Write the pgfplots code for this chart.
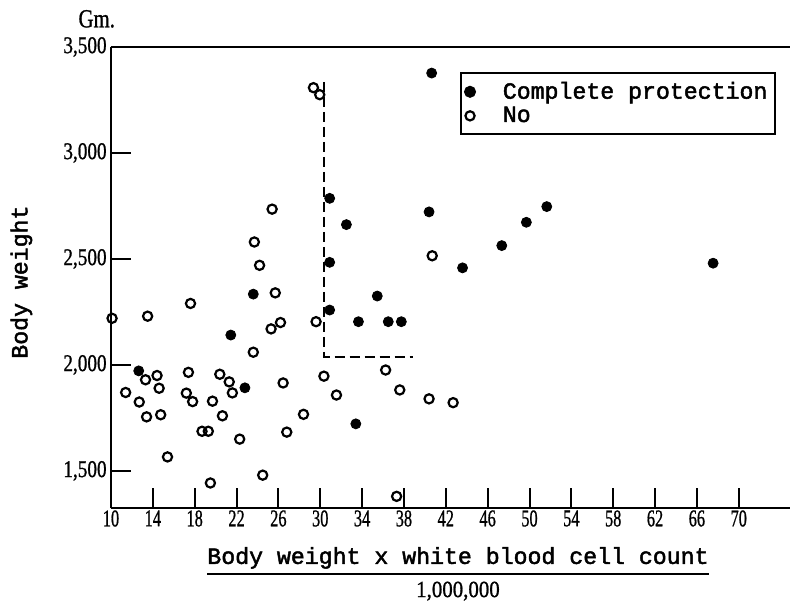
\documentclass[border=0pt]{standalone}
\usepackage{fontspec}
\usepackage{pgfplots}
\pgfplotsset{compat=1.18}
\newfontfamily\monof[FakeBold=2]{Liberation Mono}
\newfontfamily\tickf[FakeBold=1]{Liberation Serif}
\newcommand\narx[1]{\scalebox{0.68}[1]{#1}}
\newcommand\nary[1]{\scalebox{0.8}[1]{#1}}
\setlength{\arrayrulewidth}{1pt}

\pgfplotstableread{
x y
23.6 2334
21.45 2141
12.65 1972
22.8 1892
40.65 3377
30.9 2786
32.5 2662
40.4 2722
30.9 2484
43.6 2458
35.45 2325
30.9 2259
33.65 2204
36.5 2204
37.75 2204
33.4 1722
51.65 2747
49.7 2673
47.35 2563
67.55 2480
}\complete

\pgfplotstableread{
x y
10.1 2220
13.5 2230
17.6 2290
25.4 2735
23.7 2580
24.2 2470
25.7 2340
26.2 2200
25.3 2170
23.6 2060
14.4 1950
13.3 1930
14.6 1890
11.4 1870
12.7 1825
13.4 1755
14.75 1765
17.4 1965
17.2 1867
17.8 1827
20.4 1956
21.3 1920
21.6 1868
19.7 1829
20.65 1760
18.7 1687
19.3 1687
22.3 1650
26.45 1915
26.8 1683
28.4 1767
15.4 1566
24.5 1480
19.5 1443
29.35 3308
29.95 3275
40.7 2515
29.6 2204
36.25 1976
30.35 1947
31.55 1858
37.6 1882
40.4 1840
42.7 1822
37.3 1380
}\nopro

\begin{document}
\begin{tikzpicture}
\begin{axis}[
  scale only axis,
  width=339.5pt, height=230.5pt,
  xmin=10, xmax=74.9, ymin=1325, ymax=3500,
  axis x line*=box, axis y line*=left,
  axis line style={line width=1.2pt, black},
  xtick pos=bottom, ytick pos=left,
  tick align=inside,
  major tick length=10pt,
  tick style={line width=1pt, black},
  xtick={10,14,...,70},
  xticklabels={\narx{10},\narx{14},\narx{18},\narx{22},\narx{26},\narx{30},\narx{34},\narx{38},\narx{42},\narx{46},\narx{50},\narx{54},\narx{58},\narx{62},\narx{66},\narx{70}},
  xticklabel style={font=\tickf\fontsize{12}{12}\selectfont, inner sep=1pt},
  ytick={1500,2000,2500,3000,3500},
  yticklabels={\nary{1,500},\nary{2,000},\nary{2,500},\nary{3,000},\nary{3,500}},
  yticklabel style={font=\tickf\fontsize{12}{12}\selectfont, inner sep=2pt},
  ylabel={\monof Body weight},
  ylabel style={at={(axis description cs:-0.132,0.49)}, anchor=center, font=\fontsize{11.6}{12}\selectfont},
  xlabel={\begin{tabular}{@{}c@{}}{\monof Body weight x white blood cell count}\\[1pt]\hline\rule{0pt}{11pt}{\tickf\scalebox{0.9}[1]{1,000,000}}\end{tabular}},
  xlabel style={at={(axis description cs:0.511,0)}, anchor=north, yshift=-16pt, font=\fontsize{11.6}{12}\selectfont},
  legend style={at={(axis description cs:0.514,0.946)}, anchor=north west, draw=black, line width=1pt,
    font=\monof\fontsize{11.6}{12}\selectfont, inner xsep=2pt, inner ysep=2.5pt, row sep=-1.5pt},
  legend cell align=left,
  legend image code/.code={\draw[mark repeat=2,mark phase=2,#1] plot coordinates {(0cm,0cm) (0.12cm,0cm) (0.24cm,0cm)};\path[draw=none,fill=none] (0.24cm,0cm) -- ++(11pt,0pt);},
  clip=false,
]
\addplot[forget plot, black, line width=1pt, dash pattern=on 5pt off 2.5pt] coordinates {(30.4,3336) (30.4,2039) (38.9,2039)};
\addplot[only marks, mark=*, mark size=2.5pt, black] table[x=x,y=y] {\complete};
\addlegendentry{Complete protection}
\addplot[only marks, mark=o, mark size=2.3pt, mark options={line width=1.1pt, fill=white}, black] table[x=x,y=y] {\nopro};
\addlegendentry{No}
\node[font=\tickf\fontsize{13}{13}\selectfont] at (axis description cs:-0.021,1.061) {\nary{Gm.}};
\end{axis}
\pgfresetboundingbox
\path (-55.5pt,-48pt) rectangle (339.5pt,254pt);
\end{tikzpicture}
\end{document}
